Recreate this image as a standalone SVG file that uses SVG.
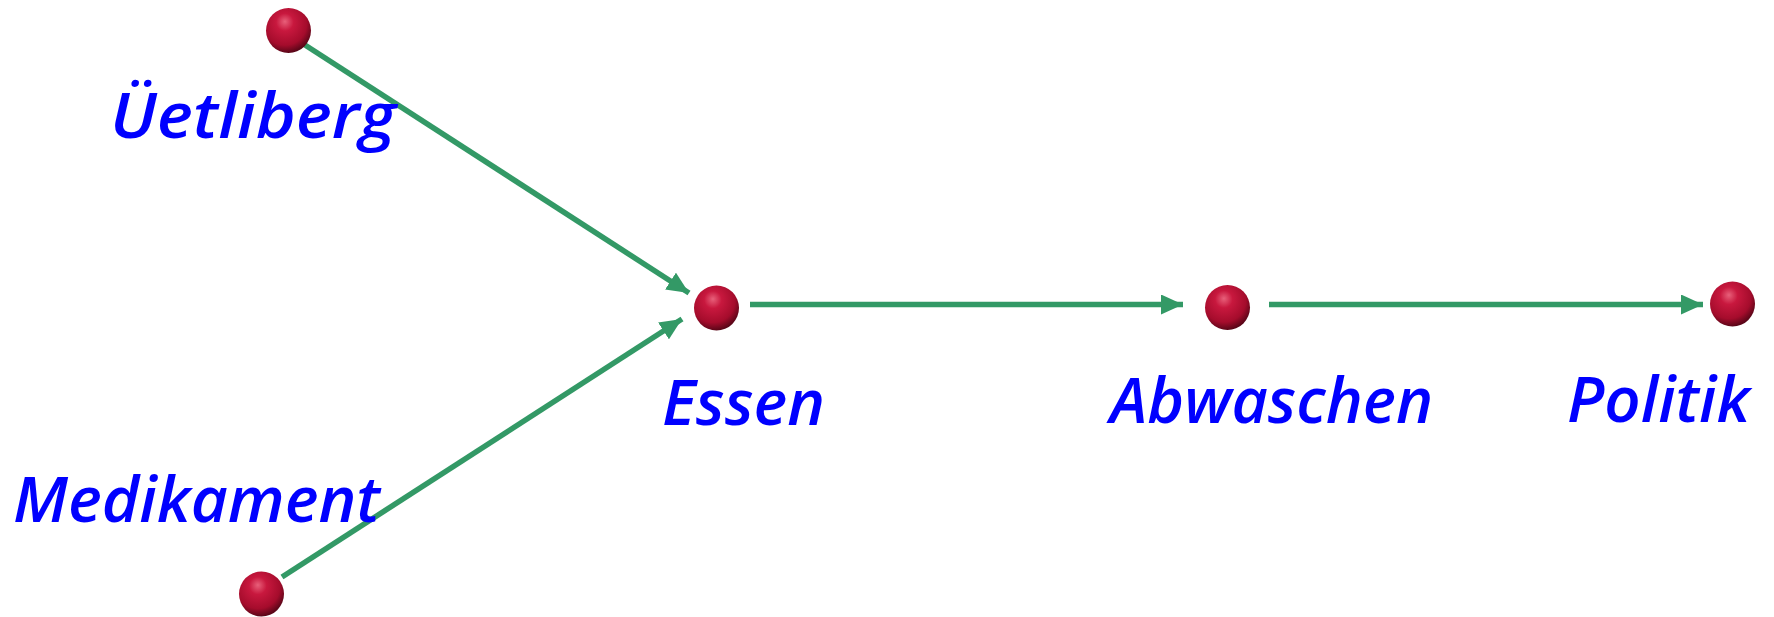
<svg xmlns="http://www.w3.org/2000/svg" width="1774" height="617" viewBox="0 0 1774 617">
<style>
.lbl{font-family:"Open Sans","Liberation Sans",sans-serif;font-style:italic;font-weight:600;font-size:64px;fill:#0000ff}
.edge{stroke:#339966;stroke-width:5.5;fill:none;marker-end:url(#ah)}
</style>
<defs>
<radialGradient id="ball" cx="0.42" cy="0.35" r="0.65" fx="0.42" fy="0.3">
<stop offset="0" stop-color="#e8607a"/>
<stop offset="0.3" stop-color="#c8183e"/>
<stop offset="0.75" stop-color="#a50c2c"/>
<stop offset="1" stop-color="#5a0618"/>
</radialGradient>
<marker id="ah" markerUnits="userSpaceOnUse" markerWidth="24" markerHeight="20" refX="22" refY="10" orient="auto">
<path d="M0,0 L22,10 L0,20 Z" fill="#339966"/>
</marker>
</defs>
<rect width="1774" height="617" fill="#ffffff"/>
<g id="connectors">
<line class="edge" x1="305" y1="45" x2="689" y2="293"/>
<line class="edge" x1="282" y1="577" x2="682" y2="319"/>
<line class="edge" x1="750" y1="304.5" x2="1183" y2="304.5"/>
<line class="edge" x1="1269" y1="304.5" x2="1703" y2="304.5"/>
</g>
<g id="uetliberg">
<circle cx="288.5" cy="30.5" r="22.5" fill="url(#ball)"/>
<text class="lbl" x="110" y="138" textLength="286" lengthAdjust="spacingAndGlyphs">Üetliberg</text>
</g>
<g id="medikament">
<circle cx="261.5" cy="594" r="22.5" fill="url(#ball)"/>
<text class="lbl" x="13" y="522" textLength="367" lengthAdjust="spacingAndGlyphs">Medikament</text>
</g>
<g id="essen">
<circle cx="716.5" cy="308" r="22.5" fill="url(#ball)"/>
<text class="lbl" x="662" y="425" textLength="163" lengthAdjust="spacingAndGlyphs">Essen</text>
</g>
<g id="abwaschen">
<circle cx="1227.5" cy="307.5" r="22.5" fill="url(#ball)"/>
<text class="lbl" x="1110" y="423" textLength="323" lengthAdjust="spacingAndGlyphs">Abwaschen</text>
</g>
<g id="politik">
<circle cx="1732.5" cy="304" r="22.5" fill="url(#ball)"/>
<text class="lbl" x="1567" y="422" textLength="183" lengthAdjust="spacingAndGlyphs">Politik</text>
</g>
</svg>
